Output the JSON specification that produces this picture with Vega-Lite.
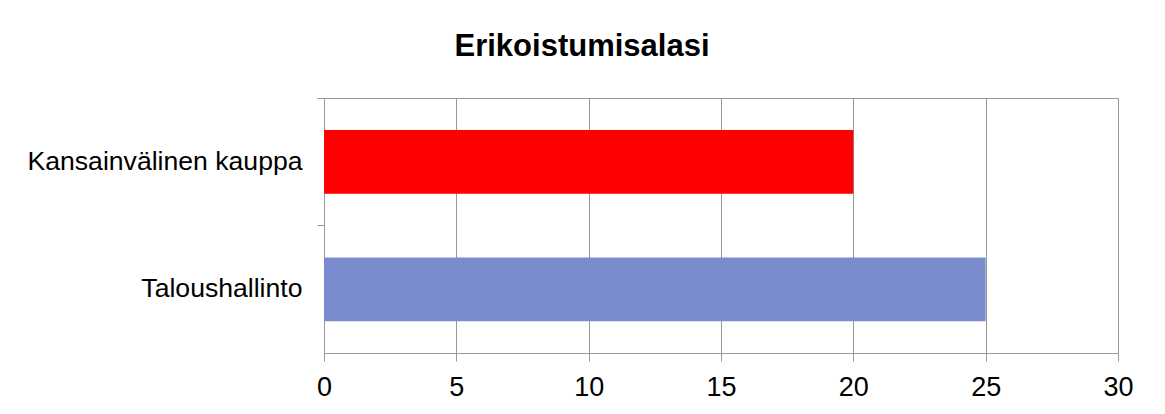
{
  "$schema": "https://vega.github.io/schema/vega-lite/v6.json",
  "autosize": {"type": "none"},
  "padding": {"left": 324, "top": 98, "right": 47, "bottom": 61},
  "width": 794,
  "height": 255,
  "background": "white",
  "title": {
    "text": "Erikoistumisalasi",
    "font": "Liberation Sans",
    "fontSize": 31,
    "fontWeight": "bold",
    "color": "black",
    "anchor": "middle",
    "baseline": "alphabetic",
    "offset": 11,
    "dx": -139
  },
  "data": {
    "values": [
      {"ala": "Kansainvälinen kauppa", "arvo": 20},
      {"ala": "Taloushallinto", "arvo": 25}
    ]
  },
  "mark": {"type": "bar"},
  "encoding": {
    "y": {
      "field": "ala",
      "type": "nominal",
      "sort": ["Kansainvälinen kauppa", "Taloushallinto"],
      "scale": {"paddingInner": 0.5, "paddingOuter": 0.25},
      "axis": {
        "title": null,
        "bandPosition": -0.5,
        "labelFont": "Liberation Sans",
        "labelFontSize": 26.6,
        "labelColor": "black",
        "labelPadding": 15,
        "labelLimit": 400,
        "tickSize": 7,
        "tickColor": "#999999",
        "domainColor": "#999999",
        "grid": false
      }
    },
    "x": {
      "field": "arvo",
      "type": "quantitative",
      "scale": {"domain": [0, 30]},
      "axis": {
        "title": null,
        "values": [0, 5, 10, 15, 20, 25, 30],
        "labelFont": "Liberation Sans",
        "labelFontSize": 27,
        "labelColor": "black",
        "labelPadding": 13,
        "tickSize": 8,
        "tickColor": "#999999",
        "domainColor": "#999999",
        "gridColor": "#999999",
        "gridOpacity": 1,
        "labelFlush": false
      }
    },
    "color": {
      "field": "ala",
      "type": "nominal",
      "scale": {
        "domain": ["Kansainvälinen kauppa", "Taloushallinto"],
        "range": ["#FF0000", "#7A8BCE"]
      },
      "legend": null
    }
  },
  "config": {
    "view": {"stroke": "#999999", "strokeWidth": 1}
  }
}
